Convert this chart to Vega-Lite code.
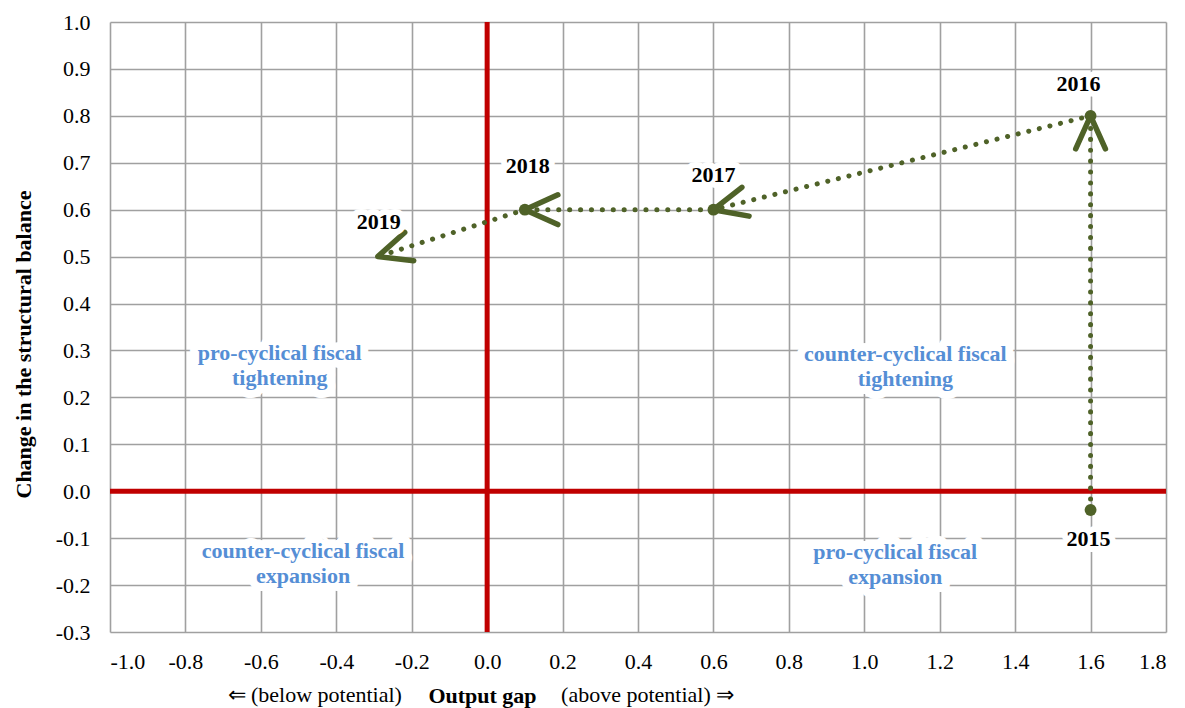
{
  "$schema": "https://vega.github.io/schema/vega-lite/v6.json",
  "width": 1056,
  "height": 610,
  "autosize": {"type": "none"},
  "padding": {"left": 110, "top": 22, "right": 19, "bottom": 76},
  "background": "white",
  "config": {
    "view": {"stroke": null},
    "font": "Liberation Serif",
    "axis": {
      "labelFont": "Liberation Serif",
      "labelFontSize": 22,
      "labelColor": "#000000",
      "titleFont": "Liberation Serif",
      "titleFontSize": 22,
      "titleFontWeight": "bold",
      "titleColor": "#000000",
      "gridColor": "#A0A0A0",
      "gridWidth": 1.6,
      "gridOpacity": 1,
      "domain": false,
      "ticks": false,
      "labelExpr": "replace(format(datum.value, '.1f'), '\u2212', '-')"
    }
  },
  "datasets": {
    "pts": [
      {"year": 2015, "x": 1.6, "y": -0.04},
      {"year": 2016, "x": 1.6, "y": 0.8},
      {"year": 2017, "x": 0.6, "y": 0.6},
      {"year": 2018, "x": 0.1, "y": 0.6},
      {"year": 2019, "x": -0.29, "y": 0.5}
    ],
    "quads": [
      {"x": -0.55, "y": 0.295, "label": "pro-cyclical fiscal\ntightening"},
      {"x": -0.488, "y": -0.127, "label": "counter-cyclical  fiscal\nexpansion"},
      {"x": 1.109, "y": 0.292, "label": "counter-cyclical  fiscal\ntightening"},
      {"x": 1.082, "y": -0.129, "label": "pro-cyclical fiscal\nexpansion"}
    ]
  },
  "encoding": {
    "x": {"field": "x", "type": "quantitative",
      "scale": {"domain": [-1.0, 1.8], "nice": false, "zero": false},
      "axis": {"title": "Output gap", "values": [-1.0, -0.8, -0.6, -0.4, -0.2, 0.0, 0.2, 0.4, 0.6, 0.8, 1.0, 1.2, 1.4, 1.6, 1.8],
        "labelPadding": 19,
        "titleX": 372, "titleY": 63, "titleBaseline": "middle", "titleAnchor": "middle", "titleAlign": "center"}},
    "y": {"field": "y", "type": "quantitative",
      "scale": {"domain": [-0.3, 1.0], "nice": false, "zero": false},
      "axis": {"title": "Change in the structural  balance", "values": [-0.3, -0.2, -0.1, 0.0, 0.1, 0.2, 0.3, 0.4, 0.5, 0.6, 0.7, 0.8, 0.9, 1.0],
        "labelPadding": 20,
        "titleX": -87, "titleY": 322, "titleBaseline": "middle", "titleAngle": -90, "titleAlign": "center"}}
  },
  "layer": [
    {
      "data": {"values": [{"x": 0, "y1": -0.3, "y2": 1.0}]},
      "mark": {"type": "rule", "color": "#C00000", "strokeWidth": 5},
      "encoding": {"y": {"field": "y1", "type": "quantitative"}, "y2": {"field": "y2"}}
    },
    {
      "data": {"values": [{"y": 0, "x1": -1.0, "x2": 1.8}]},
      "mark": {"type": "rule", "color": "#C00000", "strokeWidth": 5},
      "encoding": {"x": {"field": "x1", "type": "quantitative"}, "x2": {"field": "x2"}}
    },
    {
      "data": {"name": "pts"},
      "mark": {"type": "line", "color": "#4F6228", "strokeWidth": 5, "strokeDash": [0.1, 10.8], "strokeCap": "round"},
      "encoding": {
        "order": {"field": "year", "type": "quantitative"}
      }
    },
    {
      "data": {"name": "pts"},
      "transform": [{"filter": "datum.year != 2019"}],
      "mark": {"type": "point", "filled": true, "shape": "circle", "size": 140, "color": "#4F6228", "opacity": 1}
    },
    {
      "data": {"name": "pts"},
      "transform": [
        {"window": [{"op": "lag", "field": "x", "as": "px"}, {"op": "lag", "field": "y", "as": "py"}], "sort": [{"field": "year"}]},
        {"filter": "datum.px != null"},
        {"calculate": "atan2((datum.x - datum.px) * 377, (datum.y - datum.py) * 469) * 180 / PI", "as": "ang"}
      ],
      "mark": {"type": "point", "shape": "M -0.45 1 L 0 0 L 0.45 1", "filled": false, "size": 4356, "stroke": "#4F6228", "strokeWidth": 5.5, "strokeCap": "round", "strokeJoin": "round", "opacity": 1},
      "encoding": {
        "angle": {"field": "ang", "type": "quantitative", "scale": null}
      }
    },
    {
      "data": {"name": "pts"},
      "transform": [{"filter": "datum.year == 2015"}],
      "layer": [
        {"mark": {"type": "text", "fontSize": 22, "fontWeight": "bold", "font": "Liberation Serif", "dx": -2, "dy": 29, "baseline": "middle", "fill": "white", "stroke": "white", "strokeWidth": 12, "strokeJoin": "round"}},
        {"mark": {"type": "text", "fontSize": 22, "fontWeight": "bold", "font": "Liberation Serif", "dx": -2, "dy": 29, "baseline": "middle", "color": "#000000"}}
      ],
      "encoding": {"text": {"field": "year", "type": "nominal"}}
    },
    {
      "data": {"name": "pts"},
      "transform": [{"filter": "datum.year == 2016"}],
      "layer": [
        {"mark": {"type": "text", "fontSize": 22, "fontWeight": "bold", "font": "Liberation Serif", "dx": -12, "dy": -32, "baseline": "middle", "fill": "white", "stroke": "white", "strokeWidth": 12, "strokeJoin": "round"}},
        {"mark": {"type": "text", "fontSize": 22, "fontWeight": "bold", "font": "Liberation Serif", "dx": -12, "dy": -32, "baseline": "middle", "color": "#000000"}}
      ],
      "encoding": {"text": {"field": "year", "type": "nominal"}}
    },
    {
      "data": {"name": "pts"},
      "transform": [{"filter": "datum.year == 2017"}],
      "layer": [
        {"mark": {"type": "text", "fontSize": 22, "fontWeight": "bold", "font": "Liberation Serif", "dx": 0, "dy": -35, "baseline": "middle", "fill": "white", "stroke": "white", "strokeWidth": 12, "strokeJoin": "round"}},
        {"mark": {"type": "text", "fontSize": 22, "fontWeight": "bold", "font": "Liberation Serif", "dx": 0, "dy": -35, "baseline": "middle", "color": "#000000"}}
      ],
      "encoding": {"text": {"field": "year", "type": "nominal"}}
    },
    {
      "data": {"name": "pts"},
      "transform": [{"filter": "datum.year == 2018"}],
      "layer": [
        {"mark": {"type": "text", "fontSize": 22, "fontWeight": "bold", "font": "Liberation Serif", "dx": 3, "dy": -44, "baseline": "middle", "fill": "white", "stroke": "white", "strokeWidth": 12, "strokeJoin": "round"}},
        {"mark": {"type": "text", "fontSize": 22, "fontWeight": "bold", "font": "Liberation Serif", "dx": 3, "dy": -44, "baseline": "middle", "color": "#000000"}}
      ],
      "encoding": {"text": {"field": "year", "type": "nominal"}}
    },
    {
      "data": {"name": "pts"},
      "transform": [{"filter": "datum.year == 2019"}],
      "layer": [
        {"mark": {"type": "text", "fontSize": 22, "fontWeight": "bold", "font": "Liberation Serif", "dx": 1, "dy": -35, "baseline": "middle", "fill": "white", "stroke": "white", "strokeWidth": 12, "strokeJoin": "round"}},
        {"mark": {"type": "text", "fontSize": 22, "fontWeight": "bold", "font": "Liberation Serif", "dx": 1, "dy": -35, "baseline": "middle", "color": "#000000"}}
      ],
      "encoding": {"text": {"field": "year", "type": "nominal"}}
    },
    {
      "data": {"name": "quads"},
      "layer": [
        {"mark": {"type": "text", "fontSize": 22, "fontWeight": "bold", "font": "Liberation Serif", "lineBreak": "\n", "lineHeight": 25, "baseline": "middle", "align": "center", "fill": "white", "stroke": "white", "strokeWidth": 16, "strokeJoin": "round"}},
        {"mark": {"type": "text", "fontSize": 22, "fontWeight": "bold", "font": "Liberation Serif", "lineBreak": "\n", "lineHeight": 25, "baseline": "middle", "align": "center", "color": "#558ED5"}}
      ],
      "encoding": {"text": {"field": "label", "type": "nominal"}}
    },
    {
      "data": {"values": [{"x": -0.226, "y": -0.3}]},
      "mark": {"type": "text", "fontSize": 22, "font": "Liberation Serif", "align": "right", "baseline": "middle", "dy": 63, "color": "#000000", "text": "⇐ (below potential)"}
    },
    {
      "data": {"values": [{"x": 0.196, "y": -0.3}]},
      "mark": {"type": "text", "fontSize": 22, "font": "Liberation Serif", "align": "left", "baseline": "middle", "dy": 63, "color": "#000000", "text": "(above potential) ⇒"}
    }
  ]
}
